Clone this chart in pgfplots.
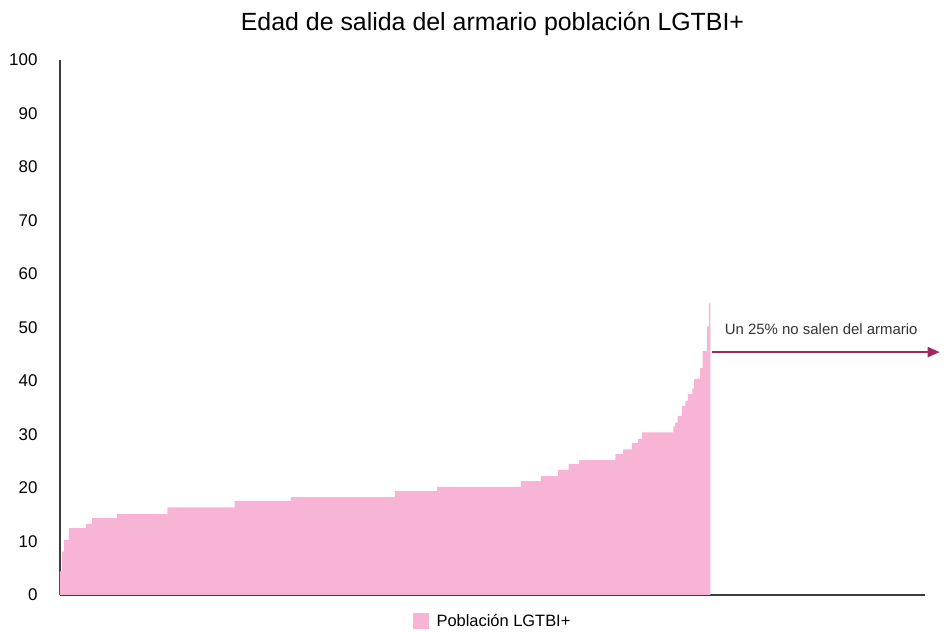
\documentclass[border=0pt]{standalone}
\usepackage{fontspec}
\setmainfont{Liberation Sans}
\usepackage{pgfplots}
\pgfplotsset{compat=1.18}
\usetikzlibrary{arrows.meta}
\definecolor{pinkfill}{RGB}{248,180,212}
\definecolor{arrowred}{RGB}{163,38,94}
\definecolor{axisgray}{RGB}{60,60,60}

\begin{document}
\begin{tikzpicture}
\begin{axis}[
    name=ax,
    scale only axis,
    width=865bp, height=535bp,
    xmin=0, xmax=100, ymin=0, ymax=100,
    axis x line*=bottom, axis y line*=left,
    axis line style={axisgray, line width=1.6bp},
    xtick=\empty,
    ytick={0,10,...,100},
    major tick length=0pt,
    yticklabel style={font=\fontsize{17}{20}\selectfont, anchor=east, xshift=-19bp},
    /pgf/number format/assume math mode=true,
    title={Edad de salida del armario población LGTBI+},
    title style={font=\fontsize{25}{30}\selectfont, at={(0.5,1)}, anchor=center, yshift=30bp},
    legend style={at={(0.5,0)}, anchor=center, yshift=-26bp, draw=none,
        font=\fontsize{16.5}{20}\selectfont},
    legend image code/.code={\fill[pinkfill] (0bp,-8bp) rectangle (16bp,8bp);},
    legend cell align=left,
    clip=false,
]
\addplot[const plot, fill=pinkfill, draw=none] coordinates {
(0,4.4) (0.23,8.1) (0.46,10.3) (1.04,12.5) (3.0,13.3) (3.7,14.4) (6.6,15.1)
(12.4,16.4) (20.2,17.6) (26.7,18.3) (38.7,19.4) (43.6,20.2) (53.3,21.3)
(55.6,22.2) (57.6,23.4) (58.8,24.5) (60.0,25.2) (64.2,26.4) (65.1,27.2)
(66.1,28.4) (66.8,29.2) (67.3,30.4) (70.9,31.5) (71.1,32.2) (71.4,33.5)
(71.9,35.3) (72.3,36.3) (72.6,37.6) (73.1,38.6) (73.3,40.4) (74.0,42.4)
(74.3,45.6) (74.8,50.2) (75.0,54.5) (75.2,54.5)
} \closedcycle;
\addlegendentry{\hspace{6bp}Población LGTBI+}
\draw[arrowred, line width=1.5bp, -{Triangle[length=12bp, width=10bp]}] (axis cs:75.4,45.4) -- (axis cs:101.7,45.4);
\node[font=\fontsize{15}{18}\selectfont, text=black!80] at (axis cs:88.0,49.6) {Un 25\% no salen del armario};
\end{axis}
\path ([shift={(-60bp,-35bp)}]ax.south west) rectangle ([shift={(21bp,60bp)}]ax.north east);
\end{tikzpicture}
\end{document}
